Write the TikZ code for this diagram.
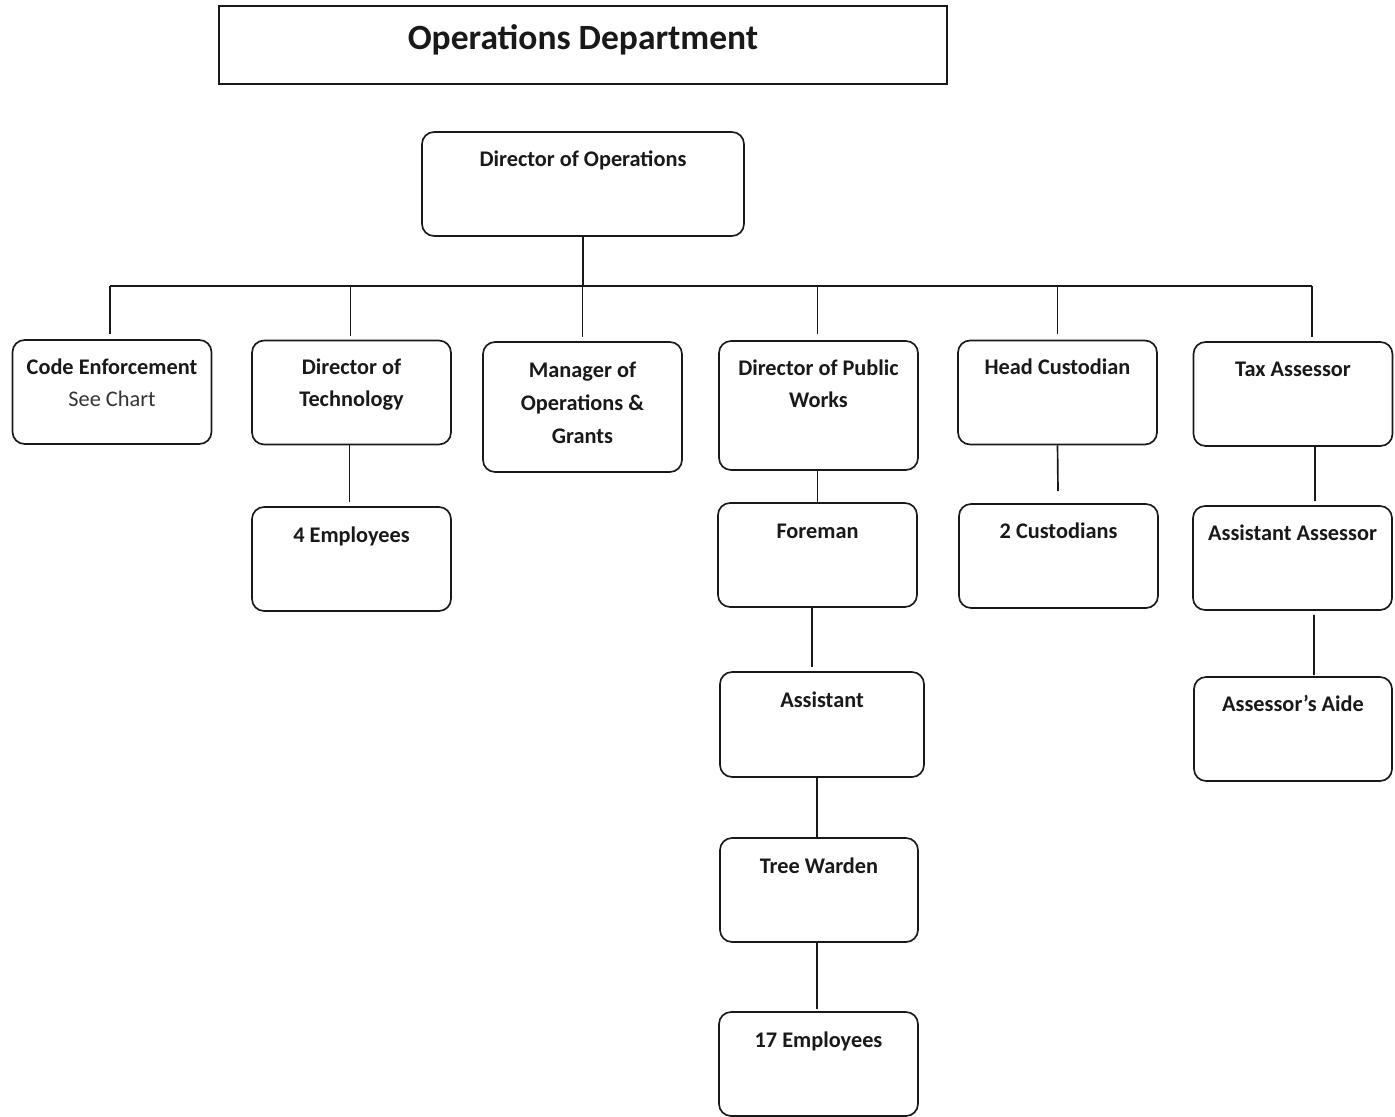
\documentclass[tikz,border=0pt]{standalone}
\usepackage{fontspec}
\setmainfont{Carlito}
\usetikzlibrary{calc}
\begin{document}
\begin{tikzpicture}[x=0.02cm,y=-0.02cm,
  box/.style={draw=black!90, line width=0.95pt, rounded corners=0.24cm, inner sep=0pt,
    minimum width=3.98cm, minimum height=2.08cm},
  lbl/.style={font=\bfseries\fontsize{12.7}{18.1}\selectfont, text=black!90, anchor=base,
    inner sep=0pt, align=center},
  conn/.style={draw=black!90, line width=0.95pt}]
\useasboundingbox[fill=white] (0,0) rectangle (1395,1116);

% title
\node[draw=black!90, line width=0.8pt, minimum width=14.56cm, minimum height=1.56cm, inner sep=0pt] (title) at (583,45) {};
\node[font=\bfseries\fontsize{20.2}{24}\selectfont, text=black!90, anchor=base, inner sep=0pt] (title-t) at (583,49) {Operations Department};

% boxes
\node[box, minimum width=6.44cm] (dop) at (583,184) {};
\node[box] (ce) at (112,392) {};
\node[box] (dt) at (351.5,392.5) {};
\node[box, minimum height=2.6cm] (mog) at (582.5,407) {};
\node[box, minimum height=2.58cm] (dpw) at (818.5,405.5) {};
\node[box] (hc) at (1057.5,392.5) {};
\node[box] (ta) at (1293,394) {};
\node[box] (emp4) at (351.5,559) {};
\node[box] (fo) at (817.5,555) {};
\node[box] (cu) at (1058.5,556) {};
\node[box] (aa) at (1292.5,558) {};
\node[box, minimum width=4.08cm, minimum height=2.1cm] (as) at (822,724.5) {};
\node[box, minimum width=3.96cm] (aide) at (1293,729) {};
\node[box, minimum width=3.96cm] (tw) at (819,890) {};
\node[box] (emp17) at (818.5,1064) {};

% texts (anchor base = baseline of the last line)
\node[lbl] (dop-t) at ($(dop.north)+(0,35)$) {Director of Operations};
\node[lbl] (ce-t) at ($(ce.north)+(0,67)$) {Code Enforcement\\{\mdseries\color{black!80}See Chart}};
\node[lbl] (dt-t) at ($(dt.north)+(0,67)$) {Director of\\Technology};
\node[lbl, font=\bfseries\fontsize{12.7}{18.7}\selectfont] (mog-t) at ($(mog.north)+(0,102)$) {Manager of\\Operations \&\\Grants};
\node[lbl] (dpw-t) at ($(dpw.north)+(0,67)$) {Director of Public\\Works};
\node[lbl] (hc-t) at ($(hc.north)+(0,35)$) {Head Custodian};
\node[lbl] (ta-t) at ($(ta.north)+(0,35)$) {Tax Assessor};
\node[lbl] (emp4-t) at ($(emp4.north)+(0,36)$) {4 Employees};
\node[lbl] (fo-t) at ($(fo.north)+(0,36)$) {Foreman};
\node[lbl] (cu-t) at ($(cu.north)+(0,35)$) {2 Custodians};
\node[lbl] (aa-t) at ($(aa.north)+(0,35)$) {Assistant Assessor};
\node[lbl] (as-t) at ($(as.north)+(0,36)$) {Assistant};
\node[lbl] (aide-t) at ($(aide.north)+(0,35)$) {Assessor’s Aide};
\node[lbl] (tw-t) at ($(tw.north)+(0,36)$) {Tree Warden};
\node[lbl] (emp17-t) at ($(emp17.north)+(0,36)$) {17 Employees};

% connectors
\coordinate (busL) at (110,286);
\coordinate (busR) at (1312,286);
\coordinate (busM) at (583,286);
\draw[conn] (busL) -- (busR);
\draw[conn] (dop.south) -- (busM);
\draw[conn] (busL) -- ($(busL |- ce.north)+(0,-5)$);
\draw[conn] ($(dt.north)+(-1,-4)$) -- ($(dt.north |- busL)+(-1,0)$);
\draw[conn] ($(mog.north)+(0,-4)$) -- (mog.north |- busL);
\draw[conn] ($(dpw.north)+(-1,-6)$) -- ($(dpw.north |- busL)+(-1,0)$);
\draw[conn] ($(hc.north)+(0,-6)$) -- (hc.north |- busL);
\draw[conn] (busR) -- ($(busR |- ta.north)+(0,-4)$);
\draw[conn] ($(dt.south)+(-2,0)$) -- ($(emp4.north)+(-2,-4)$);
\draw[conn] ($(dpw.south)+(-1,0)$) -- (fo.north);
\draw[conn] (hc.south) -- ($(cu.north)+(-0.5,-12)$);
\draw[conn] ($(ta.south)+(22,0)$) -- ($(aa.north)+(22.5,-4)$);
\draw[conn] ($(fo.south)+(-5.5,0)$) -- ($(as.north)+(-10,-4)$);
\draw[conn] ($(aa.south)+(21.5,4)$) -- ($(aide.north)+(21,-1)$);
\draw[conn] ($(as.south)+(-5,0)$) -- ($(tw.north)+(-2,0)$);
\draw[conn] ($(tw.south)+(-2,0)$) -- ($(emp17.north)+(-1.5,-2)$);
\end{tikzpicture}
\end{document}
